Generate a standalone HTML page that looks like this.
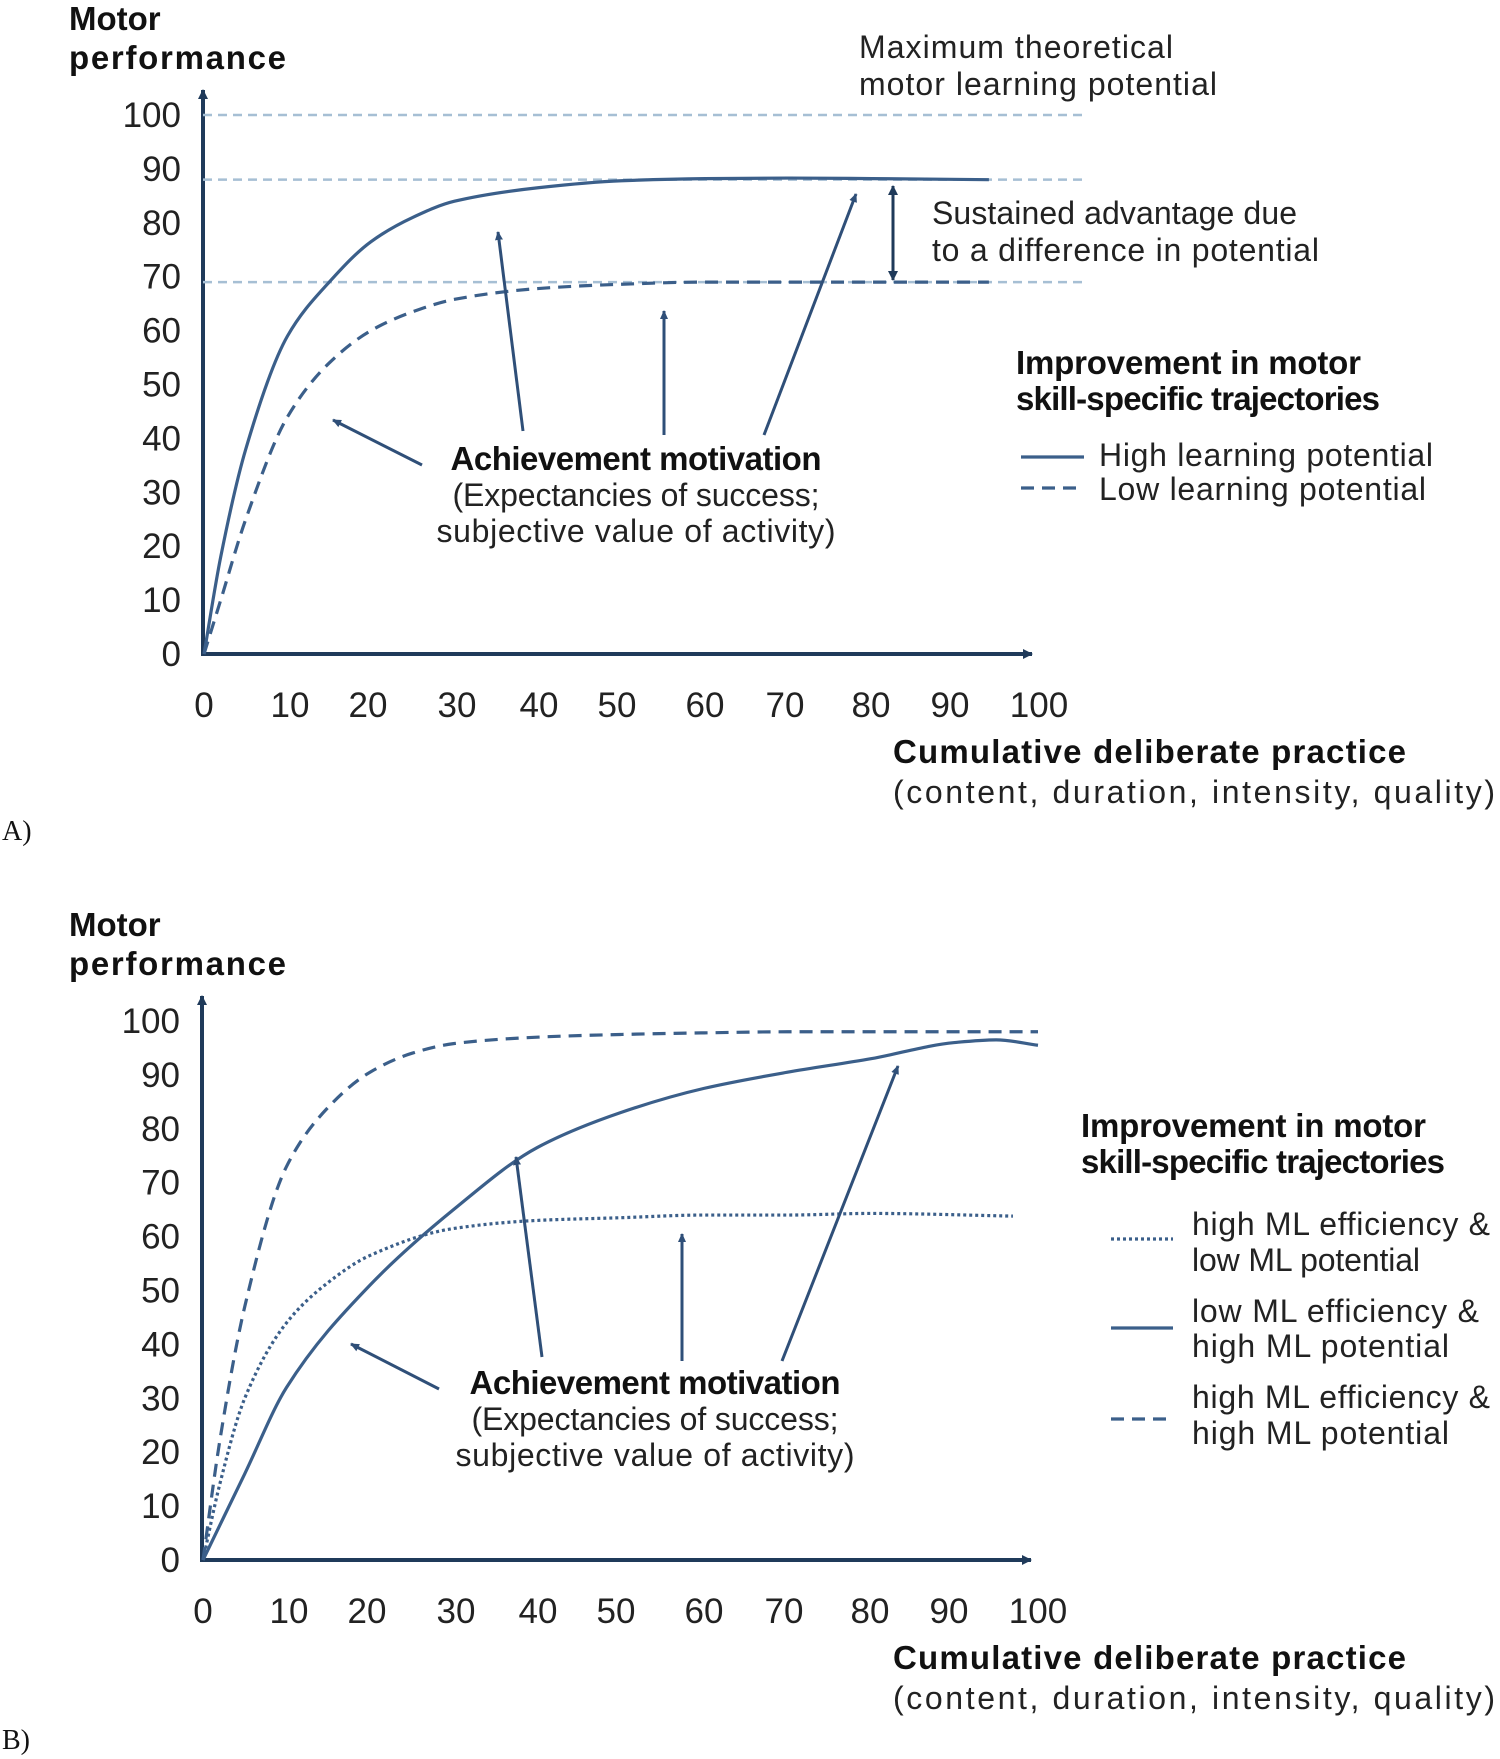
<!DOCTYPE html>
<html><head><meta charset="utf-8"><style>
html,body{margin:0;padding:0;background:#fff;}
svg{display:block;font-family:"Liberation Sans",sans-serif;}
.t{font-size:32px;fill:#222;}
.b{font-size:33px;font-weight:bold;fill:#111;}
.tk{font-size:35px;fill:#222;}
</style></head><body>
<svg id="s" width="1500" height="1759" viewBox="0 0 1500 1759">
<defs>
<marker id="ah" markerWidth="10" markerHeight="10" refX="8" refY="5" orient="auto" markerUnits="userSpaceOnUse"><path d="M0,1 L9,5 L0,9 z" fill="#2f4f78"/></marker>
<marker id="ahs" markerWidth="12" markerHeight="12" refX="9" refY="6" orient="auto-start-reverse" markerUnits="userSpaceOnUse"><path d="M0,1 L10,6 L0,11 z" fill="#1f3a5a"/></marker>
</defs>
<g id="pa"></g>
<g id="pb"></g>
</svg>
<script>
const xTicks=[0,10,20,30,40,50,60,70,80,90,100];
const yTicks=[0,10,20,30,40,50,60,70,80,90,100];
const aX=[0,2,5,10,15,20,25,30,40,50,60,70,80,94];
const aHigh=[0,18,38,59,69,76.5,81,84,86.5,87.8,88.2,88.3,88.2,88];
const aLow=[0,10,25,44,54,60,63.5,65.8,67.8,68.6,69,69,69,69];
const aRef=[100,88,69];
const bDashX=[0,2,5,10,15,20,25,30,40,50,60,70,80,90,100];
const bDash=[0,22,47,73,84,90.5,94,95.8,97,97.5,97.8,98,98,98,98];
const bSolidX=[0,5,10,20,30,40,50,60,70,80,90,95,100];
const bSolid=[0,16,32,51,65,76.5,83,87.5,90.5,93,96,96.5,95.5];
const bDotX=[0,2,5,10,15,20,30,40,50,60,70,80,97];
const bDot=[0,14,30,44,51.5,56.5,61.5,63,63.5,64,64,64.3,63.8];
const NS="http://www.w3.org/2000/svg";
function el(p,tag,attrs,txt){const e=document.createElementNS(NS,tag);for(const k in attrs)e.setAttribute(k,attrs[k]);if(txt!=null)e.textContent=txt;p.appendChild(e);return e;}
function path(pts){
  const n=pts.length,dx=[],m=[],t=[];
  for(let i=0;i<n-1;i++){dx[i]=pts[i+1][0]-pts[i][0];m[i]=(pts[i+1][1]-pts[i][1])/dx[i];}
  t[0]=m[0];t[n-1]=m[n-2];
  for(let i=1;i<n-1;i++){t[i]=(m[i-1]*m[i]<=0)?0:(dx[i-1]+dx[i])*3/((2*dx[i]+dx[i-1])/m[i-1]+(dx[i]+2*dx[i-1])/m[i]);}
  let d="M"+pts[0][0]+","+pts[0][1];
  for(let i=0;i<n-1;i++){const h=dx[i]/3;d+=" C"+(pts[i][0]+h)+","+(pts[i][1]+t[i]*h)+" "+(pts[i+1][0]-h)+","+(pts[i+1][1]-t[i+1]*h)+" "+pts[i+1][0]+","+pts[i+1][1];}
  return d;}
const tickXPos=[204,290,368,457,539,617,705,785,871,950,1039];
function axes(g,dy,dx){
  const y=v=>654+dy-(v/100)*539, x=v=>204+dx+(v/100)*835;
  const ya=el(g,"line",{x1:203+dx,y1:655+dy,x2:203+dx,y2:90+dy,stroke:"#1f3a5a","stroke-width":4,"marker-end":"url(#ahs)"});
  
  const xa=el(g,"line",{x1:201+dx,y1:654+dy,x2:1032+dx,y2:654+dy,stroke:"#1f3a5a","stroke-width":4,"marker-end":"url(#ahs)"});
  
  yTicks.forEach(v=>{const t=el(g,"text",{class:"tk",x:181+dx,y:y(v)+12,"text-anchor":"end"},v);
    });
  xTicks.forEach((v,i)=>{const t=el(g,"text",{class:"tk",x:tickXPos[i]+dx,y:717+dy,"text-anchor":"middle"},v);
    });
  let t=el(g,"text",{class:"b",x:69,y:30+dy},"Motor");
  t=el(g,"text",{class:"b",x:69,y:69+dy,"textLength":217},"performance");
  t=el(g,"text",{class:"b",x:893,y:763+dy,"textLength":513},"Cumulative deliberate practice");
  t=el(g,"text",{class:"t",x:893,y:803+dy,"textLength":602},"(content, duration, intensity, quality)");
  return {x,y};
}
function curve(g,xs,ys,sc,dash,name){
  const p=el(g,"path",{d:path(xs.map((v,i)=>[sc.x(v),sc.y(ys[i])])),fill:"none",stroke:"#3b5f8a","stroke-width":3.2,"stroke-dasharray":dash||"none"});
  
}
function arrow(g,x1,y1,x2,y2){const a=el(g,"line",{x1,y1,x2,y2,stroke:"#2f4f78","stroke-width":3,"marker-end":"url(#ah)"});
  }
function txt(g,cls,x,y,s,name,anchor,len){const o={class:cls,x,y,"text-anchor":anchor||"start"};if(len)o.textLength=len;const t=el(g,"text",o,s);
  }
// Panel A
const ga=document.getElementById("pa");
const A=axes(ga,0,0);
aRef.forEach(v=>{const l=el(ga,"line",{x1:203,y1:A.y(v),x2:1084,y2:A.y(v),stroke:"#a6bfd4","stroke-width":2.5,"stroke-dasharray":"9,6"});
  });
curve(ga,aX,aHigh,A,null,"high-potential-curve");
curve(ga,aX,aLow,A,"13,8","low-potential-curve");
txt(ga,"t",859,58,"Maximum theoretical","max-potential-label",null,314);
txt(ga,"t",859,95,"motor learning potential","max-potential-label",null,358);
const da=el(ga,"line",{x1:893,y1:186,x2:893,y2:280,stroke:"#1f3a5a","stroke-width":3,"marker-start":"url(#ahs)","marker-end":"url(#ahs)"});

txt(ga,"t",932,224,"Sustained advantage due","advantage-label",null,365);
txt(ga,"t",932,261,"to a difference in potential","advantage-label",null,387);
txt(ga,"b",1016,374,"Improvement in motor","legend-title",null,345);
txt(ga,"b",1016,410,"skill-specific trajectories","legend-title",null,364);
let l=el(ga,"line",{x1:1021,y1:457,x2:1084,y2:457,stroke:"#3b5f8a","stroke-width":3.2});
txt(ga,"t",1099,466,"High learning potential","legend-entry-high",null,334);
l=el(ga,"line",{x1:1021,y1:488,x2:1084,y2:488,stroke:"#3b5f8a","stroke-width":3.2,"stroke-dasharray":"13,8"});
txt(ga,"t",1099,500,"Low learning potential","legend-entry-low",null,327);
txt(ga,"b",636,470,"Achievement motivation","annotation-title","middle",371);
txt(ga,"t",636,506,"(Expectancies of success;","annotation-text","middle",367);
txt(ga,"t",636,542,"subjective value of activity)","annotation-text","middle",399);
arrow(ga,422,465,333,420);arrow(ga,523,431,498,232);arrow(ga,664,435,664,311);arrow(ga,764,435,856,194);
let pl=el(ga,"text",{x:2,y:840,"font-family":"Liberation Serif, serif","font-size":"28px",fill:"#111"},"A)");
// Panel B
const gb=document.getElementById("pb");
const B=axes(gb,906,-1);
curve(gb,bDashX,bDash,B,"13,8","high-eff-high-pot-curve");
curve(gb,bSolidX,bSolid,B,null,"low-eff-high-pot-curve");
curve(gb,bDotX,bDot,B,"3,3","high-eff-low-pot-curve");
txt(gb,"b",1081,1137,"Improvement in motor","legend-title",null,345);
txt(gb,"b",1081,1173,"skill-specific trajectories","legend-title",null,364);
l=el(gb,"line",{x1:1111,y1:1239,x2:1173,y2:1239,stroke:"#3b5f8a","stroke-width":3.2,"stroke-dasharray":"3,3"});
txt(gb,"t",1192,1235,"high ML efficiency &","legend-entry-dotted",null,298);
txt(gb,"t",1192,1271,"low ML potential","legend-entry-dotted",null,228);
l=el(gb,"line",{x1:1111,y1:1328,x2:1173,y2:1328,stroke:"#3b5f8a","stroke-width":3.2});
txt(gb,"t",1192,1322,"low ML efficiency &","legend-entry-solid",null,287);
txt(gb,"t",1192,1357,"high ML potential","legend-entry-solid",null,257);
l=el(gb,"line",{x1:1111,y1:1419,x2:1173,y2:1419,stroke:"#3b5f8a","stroke-width":3.2,"stroke-dasharray":"13,8"});
txt(gb,"t",1192,1408,"high ML efficiency &","legend-entry-dashed",null,298);
txt(gb,"t",1192,1444,"high ML potential","legend-entry-dashed",null,257);
txt(gb,"b",655,1394,"Achievement motivation","annotation-title","middle",371);
txt(gb,"t",655,1430,"(Expectancies of success;","annotation-text","middle",367);
txt(gb,"t",655,1466,"subjective value of activity)","annotation-text","middle",399);
arrow(gb,439,1389,351,1344);arrow(gb,542,1357,516,1157);arrow(gb,682,1361,682,1234);arrow(gb,782,1361,898,1066);
pl=el(gb,"text",{x:2,y:1749,"font-family":"Liberation Serif, serif","font-size":"28px",fill:"#111"},"B)");
</script>
</body></html>
